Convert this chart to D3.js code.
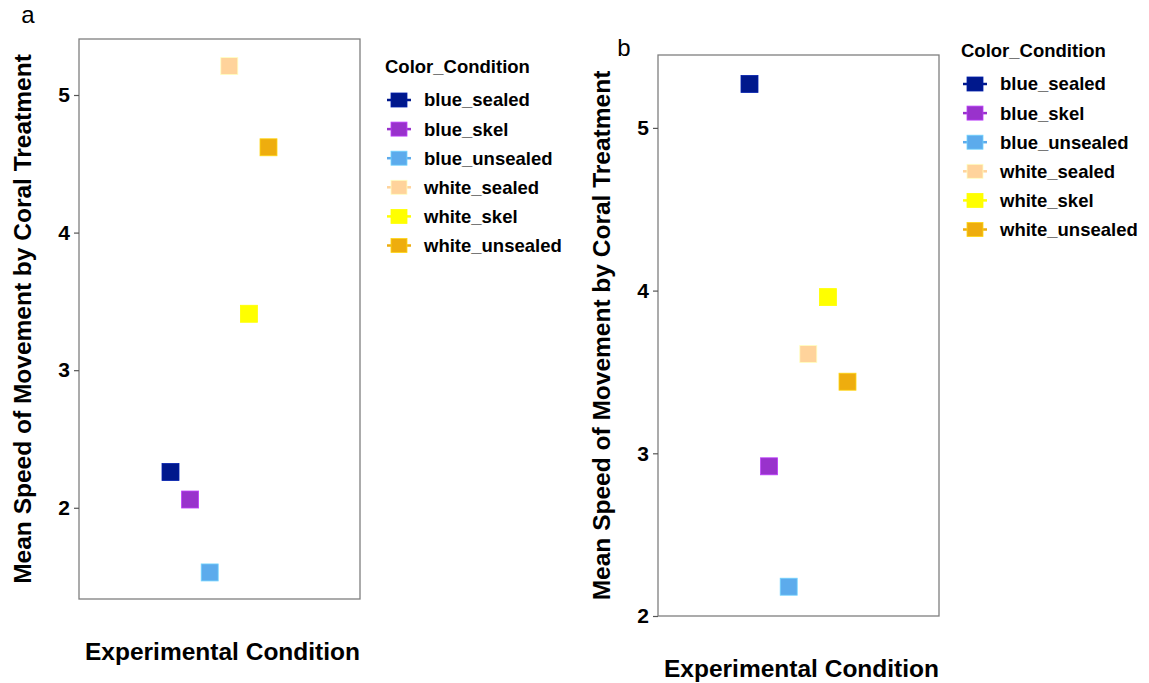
<!DOCTYPE html>
<html>
<head>
<meta charset="utf-8">
<script src="https://cdn.jsdelivr.net/npm/d3@7"></script>
<style>
  body { margin: 0; background: #fff; }
  svg { display: block; font-family: "Liberation Sans", Arial, sans-serif; }
</style>
</head>
<body>
<div id="chart"></div>
<script>
const conditions = ["blue_sealed", "blue_skel", "blue_unsealed", "white_sealed", "white_skel", "white_unsealed"];
const colors = ["#00188c", "#9932cc", "#5cabec", "#ffd39b", "#ffff00", "#eead0e"];
const speedsA = [2.26, 2.06, 1.53, 5.21, 3.41, 4.62];
const speedsB = [5.27, 2.92, 2.18, 3.61, 3.96, 3.44];
const ticksA = [2, 3, 4, 5];
const ticksB = [2, 3, 4, 5];

const width = 1149, height = 683;
const color = d3.scaleOrdinal().domain(conditions).range(colors);

const svg = d3.select("#chart").append("svg")
  .attr("width", width)
  .attr("height", height);

function drawPanel(opts) {
  const { left, top, w, h, yDomain, values, ticks, tag, tagPos, legendX, legendY } = opts;
  const g = svg.append("g");

  const y = d3.scaleLinear().domain(yDomain).range([top + h, top]);
  const x = d3.scalePoint().domain(conditions)
    .range([left + w / 2 - 49, left + w / 2 + 49]);

  g.append("rect")
    .attr("x", left).attr("y", top)
    .attr("width", w).attr("height", h)
    .attr("fill", "none")
    .attr("stroke", "#7f7f7f")
    .attr("stroke-width", 1.3);

  const axis = g.append("g")
    .attr("transform", `translate(${left},0)`)
    .call(d3.axisLeft(y).tickValues(ticks).tickSize(5).tickPadding(4).tickFormat(d3.format("d")))
    .attr("font-size", 21)
    .attr("font-weight", "bold")
    .attr("font-family", "'Liberation Sans', Arial, sans-serif");
  axis.select(".domain").remove();
  axis.selectAll(".tick line").attr("stroke", "#555").attr("stroke-width", 1.2);
  axis.selectAll(".tick text").attr("fill", "#000");

  const s = 17;
  g.selectAll("rect.pt")
    .data(conditions.map((c, i) => ({ c, v: values[i] })))
    .join("rect")
      .attr("class", "pt")
      .attr("x", d => x(d.c) - s / 2)
      .attr("y", d => y(d.v) - s / 2)
      .attr("width", s).attr("height", s)
      .attr("fill", d => color(d.c))
      .attr("stroke", d => d3.color(color(d.c)).brighter(0.6))
      .attr("stroke-width", 0.8);

  // axis titles
  g.append("text")
    .attr("transform", `translate(${left - 57},${top + h / 2}) rotate(-90)`)
    .attr("text-anchor", "middle")
    .attr("dy", "0.35em")
    .attr("font-size", 24.5)
    .attr("font-weight", "bold")
    .text("Mean Speed of Movement by Coral Treatment");

  g.append("text")
    .attr("x", left + w / 2 + 3)
    .attr("y", top + h + 61)
    .attr("text-anchor", "middle")
    .attr("font-size", 24.5)
    .attr("font-weight", "bold")
    .text("Experimental Condition");

  g.append("text")
    .attr("x", tagPos[0]).attr("y", tagPos[1])
    .attr("text-anchor", "middle")
    .attr("font-size", 24)
    .text(tag);

  // legend
  const lg = g.append("g").attr("transform", `translate(${legendX},${legendY})`);
  lg.append("text")
    .attr("x", 0).attr("y", 0)
    .attr("dy", "0.35em")
    .attr("font-size", 18.5)
    .attr("font-weight", "bold")
    .text("Color_Condition");
  const item = lg.selectAll("g.item")
    .data(conditions)
    .join("g")
      .attr("class", "item")
      .attr("transform", (d, i) => `translate(0,${33 + i * 29.1})`);
  item.append("line")
    .attr("x1", 2).attr("x2", 26)
    .attr("stroke", d => color(d))
    .attr("stroke-width", 2.5);
  item.append("rect")
    .attr("x", 6).attr("y", -7)
    .attr("width", 16).attr("height", 14)
    .attr("fill", d => color(d))
    .attr("stroke", d => d3.color(color(d)).brighter(0.6))
    .attr("stroke-width", 0.8);
  item.append("text")
    .attr("x", 39)
    .attr("dy", "0.35em")
    .attr("font-size", 18.5)
    .attr("font-weight", "bold")
    .text(d => d);
}

drawPanel({
  left: 79, top: 39, w: 281, h: 560,
  yDomain: [1.337, 5.407],
  values: speedsA, ticks: ticksA,
  tag: "a", tagPos: [28, 23],
  legendX: 385, legendY: 67
});

drawPanel({
  left: 658, top: 55, w: 281, h: 561,
  yDomain: [2.0, 5.448],
  values: speedsB, ticks: ticksB,
  tag: "b", tagPos: [624, 56],
  legendX: 961, legendY: 51
});
</script>
</body>
</html>
